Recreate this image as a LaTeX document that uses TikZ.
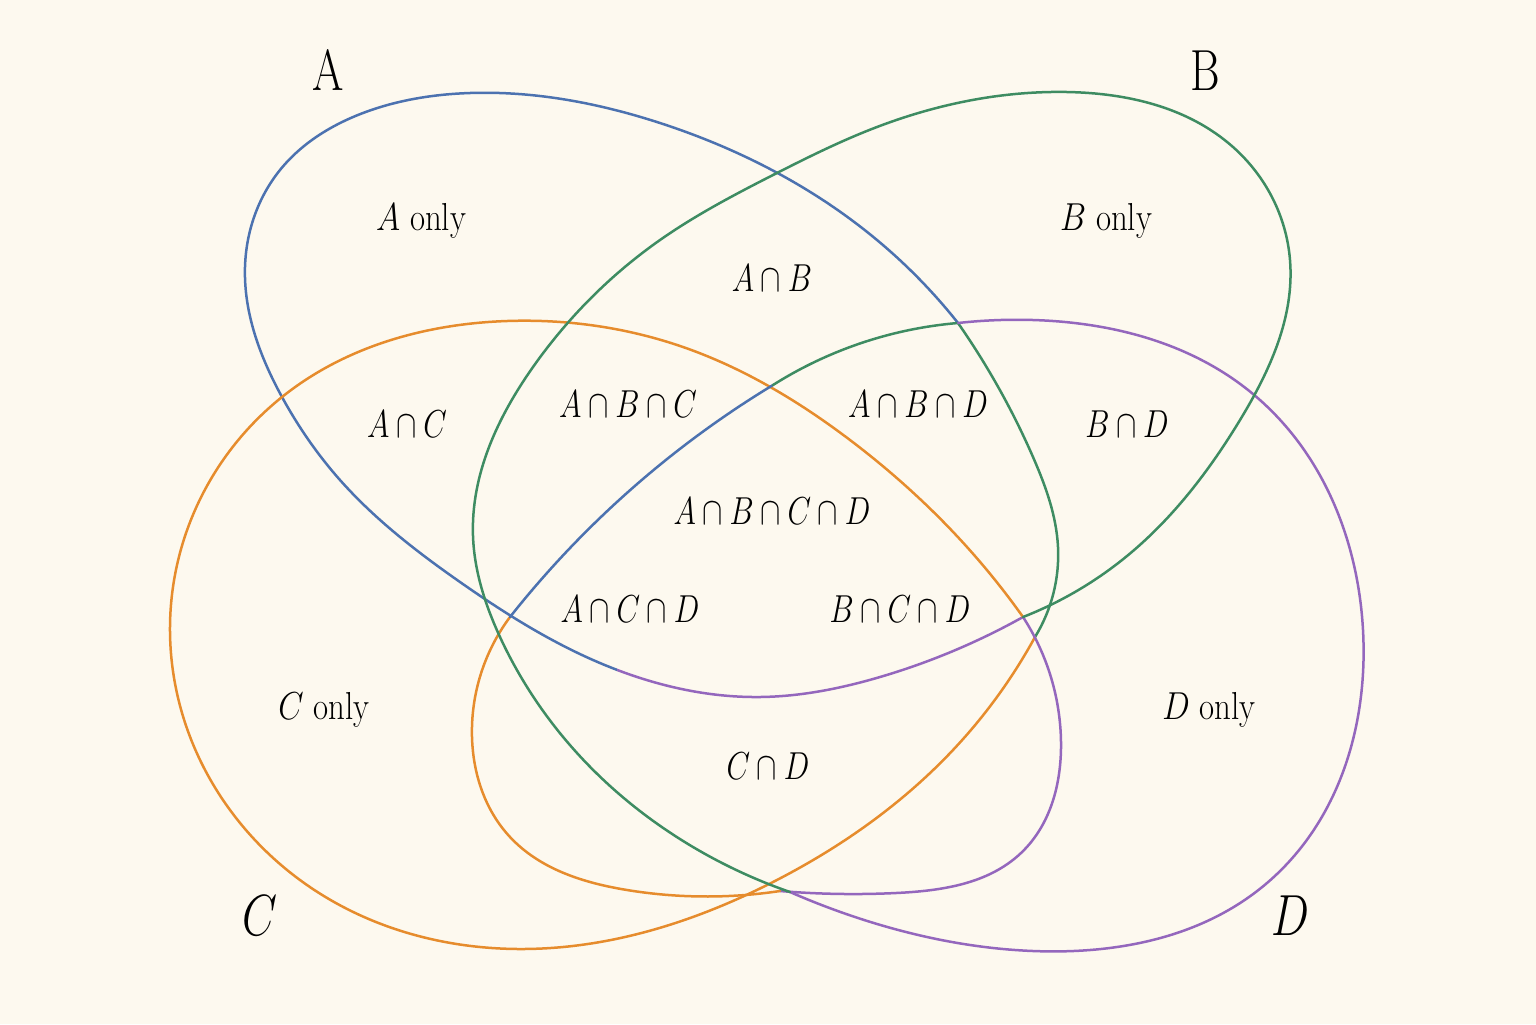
\RequirePackage{fix-cm}
\documentclass[tikz,border=0pt]{standalone}
\usepackage{graphicx}
\usetikzlibrary{hobby}
\definecolor{bgc}{RGB}{253,249,239}
\definecolor{cblue}{RGB}{76,114,176}
\definecolor{cgreen}{RGB}{62,140,98}
\definecolor{corange}{RGB}{230,140,45}
\definecolor{cpurple}{RGB}{148,103,189}
\newcommand{\hsq}[1]{\scalebox{0.78}[1]{#1}}
\newcommand{\hsqw}[1]{\scalebox{0.84}[1]{#1}}
\begin{document}
\begin{tikzpicture}[x=0.5pt,y=-0.5pt,
  curve/.style={line width=1.25pt, line cap=round, line join=round, use Hobby shortcut},
  lbl/.style={anchor=base, inner sep=0pt, font=\fontsize{19.5}{23}\selectfont},
  big/.style={anchor=base, inner sep=0pt, font=\fontsize{29}{34}\selectfont}]
\fill[bgc] (0,0) rectangle (1536,1024);
\useasboundingbox (0,0) rectangle (1536,1024);

% A : blue, with purple bottom part
\begin{scope}
\clip (0,0) rectangle (617,1024) (617,0) rectangle (1536,600);
\draw[curve, cblue] (1023,617) .. (880,677) .. (760,697) .. (593,660) .. (460,582) .. (340,480) .. (282,397) .. (245,267) .. (280,170) .. (363,113) .. (470,93) .. (660,123) .. (877,240) .. (958,323);
\end{scope}
\begin{scope}
\clip (617,600) rectangle (1536,1024);
\draw[curve, cpurple] (1023,617) .. (880,677) .. (760,697) .. (593,660) .. (460,582) .. (340,480) .. (282,397) .. (245,267) .. (280,170) .. (363,113) .. (470,93) .. (660,123) .. (877,240) .. (958,323);
\end{scope}

% green right lobe of A
\draw[curve, cgreen] (958,323) .. (1033,457) .. (1058,547) .. (1035,637);

% orange C
\draw[curve, corange] (1035,637) .. (953,750) .. (773,882) .. (523,949) .. (300,880) .. (170,626) .. (282,397) .. (507,321) .. (683,347) .. (850,440) .. (967,547) .. (1023,617);

% purple inner lobe (right part)
\draw[curve, cpurple] (1023,617) .. (1061,742) .. (1021,853) .. (896,893) .. (780,891);

% orange inner lobe (left part)
\draw[curve, corange] (780,891) .. (627,890) .. (510,837) .. (472,737) .. (510,617);

% blue inner arc
\draw[curve, cblue] (510,617) .. (650,473) .. (773,385);

% green inner arc
\draw[curve, cgreen] (773,385) .. (850,347) .. (958,323);

% purple D outer
\draw[curve, cpurple] (958,323) .. (1033,320) .. (1253,394) .. (1363,630) .. (1267,883) .. (1033,951) .. (855,917) .. (790,892);

% green B
\draw[curve, cgreen] (790,892) .. (693,847) .. (577,753) .. (500,637) .. (473,536) .. (533,367) .. (660,240) .. (773,175) .. (877,127) .. (1067,92) .. (1233,147) .. (1290,260) .. (1240,420) .. (1127,556) .. (1023,617);

% set labels
\node[big] (labA) at (328,90) {\hsq{A}};
\node[big] (labB) at (1205,90) {\hsq{B}};
\node[big] (labC) at (260,935) {\hsq{$C$}};
\node[big] (labD) at (1290,935) {\hsq{$D$}};

% region labels
\node[lbl] (rA) at (421,230) {\hsqw{$A$ only}};
\node[lbl] (rB) at (1106,230) {\hsqw{$B$ only}};
\node[lbl] (rAB) at (772,291) {\hsq{$A\cap B$}};
\node[lbl] (rAC) at (407,437) {\hsq{$A\cap C$}};
\node[lbl] (rABC) at (628,417) {\hsq{$A\cap B\cap C$}};
\node[lbl] (rABD) at (918,417) {\hsq{$A\cap B\cap D$}};
\node[lbl] (rBD) at (1127,437) {\hsq{$B\cap D$}};
\node[lbl] (rABCD) at (772,524) {\hsq{$A\cap B\cap C\cap D$}};
\node[lbl] (rACD) at (630,622) {\hsq{$A\cap C\cap D$}};
\node[lbl] (rBCD) at (900,622) {\hsq{$B\cap C\cap D$}};
\node[lbl] (rC) at (324,719) {\hsqw{$C$ only}};
\node[lbl] (rD) at (1209,719) {\hsqw{$D$ only}};
\node[lbl] (rCD) at (768,779) {\hsq{$C\cap D$}};
\end{tikzpicture}
\end{document}
